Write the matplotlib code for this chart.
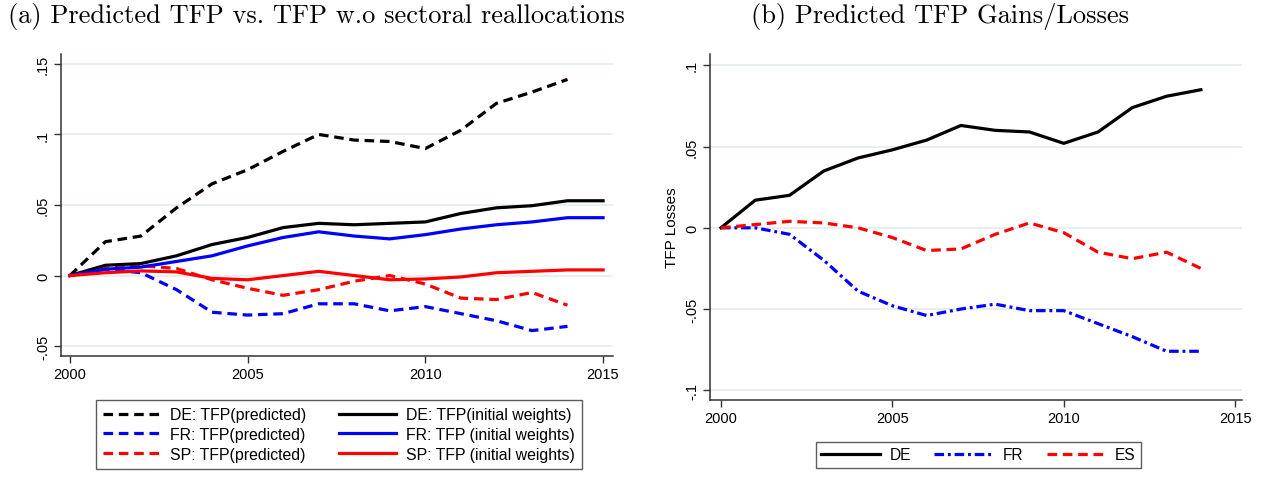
import matplotlib
matplotlib.use("Agg")
import matplotlib.pyplot as plt

plt.rcParams['font.family'] = ['Liberation Sans', 'DejaVu Sans']

years = list(range(2000, 2016))
years_pred = list(range(2000, 2015))

# panel (a): predicted TFP and TFP at initial sector weights
de_pred = [0, 0.024, 0.028, 0.048, 0.065, 0.075, 0.088, 0.100, 0.096, 0.095, 0.090, 0.103, 0.122, 0.130, 0.139]
fr_pred = [0, 0.0045, 0.002, -0.010, -0.026, -0.028, -0.027, -0.020, -0.020, -0.025, -0.022, -0.027, -0.032, -0.039, -0.036]
sp_pred = [0, 0.005, 0.007, 0.005, -0.003, -0.009, -0.014, -0.010, -0.004, 0.0, -0.006, -0.016, -0.017, -0.012, -0.021]
de_init = [0, 0.0073, 0.0085, 0.014, 0.022, 0.027, 0.034, 0.037, 0.036, 0.037, 0.038, 0.044, 0.048, 0.0495, 0.053, 0.053]
fr_init = [0, 0.0045, 0.006, 0.010, 0.014, 0.021, 0.027, 0.031, 0.028, 0.026, 0.029, 0.033, 0.036, 0.038, 0.041, 0.041]
sp_init = [0, 0.002, 0.0033, 0.0026, -0.002, -0.003, 0.0, 0.003, 0.0, -0.003, -0.0024, -0.001, 0.002, 0.003, 0.004, 0.004]

# panel (b): TFP gains/losses
de_loss = [0, 0.017, 0.020, 0.035, 0.043, 0.048, 0.054, 0.063, 0.060, 0.059, 0.052, 0.059, 0.074, 0.081, 0.085]
fr_loss = [0, 0.0, -0.004, -0.020, -0.039, -0.048, -0.054, -0.050, -0.047, -0.051, -0.051, -0.059, -0.067, -0.076, -0.076]
es_loss = [0, 0.002, 0.004, 0.003, 0.0, -0.006, -0.014, -0.013, -0.004, 0.003, -0.003, -0.015, -0.019, -0.015, -0.025]

W, H = 1266, 481
fig = plt.figure(figsize=(W / 100, H / 100), dpi=100)

grid_col = '#e3ecef'
spine_col = '#333333'
lw = 2.3
dash = (3.0, 1.8)
dashdot = (3.0, 1.2, 0.9, 1.2)


def style_axes(ax, yticks, ylabels):
    ax.set_yticks(yticks)
    ax.set_yticklabels(ylabels, rotation=90, va='center')
    ax.set_xticks([2000, 2005, 2010, 2015])
    ax.grid(axis='y', color=grid_col, linewidth=1.2)
    ax.set_axisbelow(True)
    for s in ['top', 'right']:
        ax.spines[s].set_visible(False)
    for s in ['left', 'bottom']:
        ax.spines[s].set_color(spine_col)
        ax.spines[s].set_linewidth(1.1)
    ax.tick_params(direction='out', length=5, width=1, color=spine_col,
                   labelsize=10.5, pad=3)


# left panel
ax1 = fig.add_axes([61 / W, 1 - 357 / H, 552 / W, 302 / H])
h1, = ax1.plot(years_pred, de_pred, color='black', lw=lw, dashes=dash)
h2, = ax1.plot(years_pred, fr_pred, color='blue', lw=lw, dashes=dash)
h3, = ax1.plot(years_pred, sp_pred, color='red', lw=lw, dashes=dash)
h4, = ax1.plot(years, de_init, color='black', lw=lw)
h5, = ax1.plot(years, fr_init, color='blue', lw=lw)
h6, = ax1.plot(years, sp_init, color='red', lw=lw)
ax1.set_xlim(1999.75, 2015.28)
ax1.set_ylim(-0.057, 0.157)
style_axes(ax1, [-0.05, 0, 0.05, 0.1, 0.15], ['-.05', '0', '.05', '.1', '.15'])

leg1 = fig.legend([h1, h2, h3, h4, h5, h6],
                  ['DE: TFP(predicted)', 'FR: TFP(predicted)', 'SP: TFP(predicted)',
                   'DE: TFP(initial weights)', 'FR: TFP (initial weights)', 'SP: TFP (initial weights)'],
                  ncol=2, loc='upper center', bbox_to_anchor=(339 / W, 1 - 393 / H),
                  fontsize=11.4, frameon=True, fancybox=False, edgecolor=spine_col,
                  handlelength=3.6, handletextpad=0.6, columnspacing=2.1,
                  labelspacing=0.3, borderpad=0.45)
leg1.get_frame().set_linewidth(1.0)

# right panel
ax2 = fig.add_axes([710 / W, 1 - 401 / H, 532 / W, 346 / H])
g1, = ax2.plot(years_pred, de_loss, color='black', lw=lw)
g2, = ax2.plot(years_pred, fr_loss, color='blue', lw=lw, dashes=dashdot)
g3, = ax2.plot(years_pred, es_loss, color='red', lw=lw, dashes=dash)
ax2.set_xlim(1999.68, 2015.2)
ax2.set_ylim(-0.106, 0.107)
style_axes(ax2, [-0.1, -0.05, 0, 0.05, 0.1], ['-.1', '-.05', '0', '.05', '.1'])
ax2.set_ylabel('TFP Losses', fontsize=11, labelpad=4)

leg2 = fig.legend([g1, g2, g3], ['DE', 'FR', 'ES'], ncol=3, loc='upper center',
                  bbox_to_anchor=(978.5 / W, 1 - 435 / H), fontsize=11.2,
                  frameon=True, fancybox=False, edgecolor=spine_col,
                  handlelength=3.8, handletextpad=0.6, columnspacing=1.5,
                  borderpad=0.35)
leg2.get_frame().set_linewidth(1.0)

# panel titles
fig.text(316 / W, 1 - 17 / H, '(a) Predicted TFP vs. TFP w.o sectoral reallocations',
         ha='center', va='center', fontsize=19, family='cmr10')
fig.text(940 / W, 1 - 17 / H, '(b) Predicted TFP Gains/Losses',
         ha='center', va='center', fontsize=19, family='cmr10')

fig.savefig('out.png', dpi=100)
